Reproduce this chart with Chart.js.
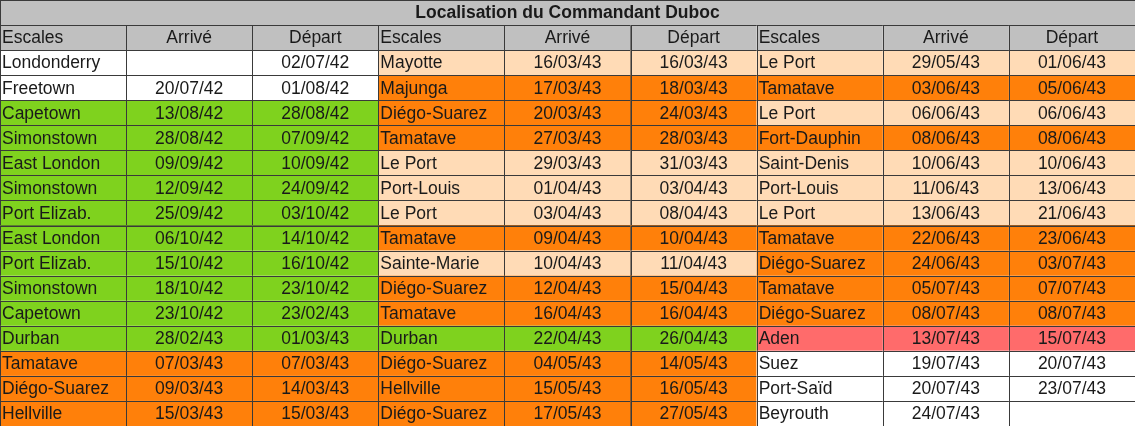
<!DOCTYPE html>
<html>
<head>
<meta charset="utf-8">
<script src="https://cdn.jsdelivr.net/npm/chart.js@4"></script>
<style>
  html, body { margin: 0; padding: 0; background: #fff; }
  #wrap { width: 1135px; height: 426px; }
</style>
</head>
<body>
<div id="wrap"><canvas id="tbl"></canvas></div>
<script>
// =========================================
// TABLE DATA
// =========================================
const title = 'Localisation du Commandant Duboc';
const headers = ['Escales', 'Arrivé', 'Départ'];

// colour keys: w = white, g = green, o = orange, p = peach, r = red
const escales1 = ['Londonderry','Freetown','Capetown','Simonstown','East London','Simonstown','Port Elizab.','East London','Port Elizab.','Simonstown','Capetown','Durban','Tamatave','Diégo-Suarez','Hellville'];
const arrive1 = ['','20/07/42','13/08/42','28/08/42','09/09/42','12/09/42','25/09/42','06/10/42','15/10/42','18/10/42','23/10/42','28/02/43','07/03/43','09/03/43','15/03/43'];
const depart1 = ['02/07/42','01/08/42','28/08/42','07/09/42','10/09/42','24/09/42','03/10/42','14/10/42','16/10/42','23/10/42','23/02/43','01/03/43','07/03/43','14/03/43','15/03/43'];
const colors1 = ['w','w','g','g','g','g','g','g','g','g','g','g','o','o','o'];

const escales2 = ['Mayotte','Majunga','Diégo-Suarez','Tamatave','Le Port','Port-Louis','Le Port','Tamatave','Sainte-Marie','Diégo-Suarez','Tamatave','Durban','Diégo-Suarez','Hellville','Diégo-Suarez'];
const arrive2 = ['16/03/43','17/03/43','20/03/43','27/03/43','29/03/43','01/04/43','03/04/43','09/04/43','10/04/43','12/04/43','16/04/43','22/04/43','04/05/43','15/05/43','17/05/43'];
const depart2 = ['16/03/43','18/03/43','24/03/43','28/03/43','31/03/43','03/04/43','08/04/43','10/04/43','11/04/43','15/04/43','16/04/43','26/04/43','14/05/43','16/05/43','27/05/43'];
const colors2 = ['p','o','o','o','p','p','p','o','p','o','o','g','o','o','o'];

const escales3 = ['Le Port','Tamatave','Le Port','Fort-Dauphin','Saint-Denis','Port-Louis','Le Port','Tamatave','Diégo-Suarez','Tamatave','Diégo-Suarez','Aden','Suez','Port-Saïd','Beyrouth'];
const arrive3 = ['29/05/43','03/06/43','06/06/43','08/06/43','10/06/43','11/06/43','13/06/43','22/06/43','24/06/43','05/07/43','08/07/43','13/07/43','19/07/43','20/07/43','24/07/43'];
const depart3 = ['01/06/43','05/06/43','06/06/43','08/06/43','10/06/43','13/06/43','21/06/43','23/06/43','03/07/43','07/07/43','08/07/43','15/07/43','20/07/43','23/07/43',''];
const colors3 = ['p','o','p','o','p','p','p','o','o','o','o','r','w','w','w'];

const palette = { w: '#ffffff', g: '#7fd21e', o: '#ff800a', p: '#ffdbb6', r: '#ff6b6b', h: '#c0c0c0' };

const groups = [
    [escales1, arrive1, depart1, colors1],
    [escales2, arrive2, depart2, colors2],
    [escales3, arrive3, depart3, colors3]
];
const nRows = escales1.length + 2; // title + header + data

// draws the cells on the chart's own scales (x: 0..9 columns, y: 0..nRows rows)
const tablePlugin = {
    id: 'tableCells',
    afterDraw(chart) {
        const c = chart.ctx;
        const xs = chart.scales.x, ys = chart.scales.y;
        const rect = (x0, y0, x1, y1) => {
            const px0 = xs.getPixelForValue(x0), px1 = xs.getPixelForValue(x1);
            const py0 = ys.getPixelForValue(y0), py1 = ys.getPixelForValue(y1);
            return [px0, py0, px1 - px0, py1 - py0];
        };
        const cell = (col, row, span, fill, text, align, bold) => {
            const [x, y, w, h] = rect(col, row, col + span, row + 1);
            c.fillStyle = fill;
            c.fillRect(x, y, w, h);
            c.strokeStyle = '#3a3a3a';
            c.lineWidth = 1;
            c.strokeRect(Math.round(x) + 0.5, Math.round(y) + 0.5, Math.round(w), Math.round(h));
            if (!text) return;
            c.fillStyle = '#1a1a1a';
            c.font = (bold ? 'bold ' : '') + '17.5px "Liberation Sans", Arial, sans-serif';
            c.textBaseline = 'middle';
            c.textAlign = align;
            const tx = align === 'left' ? x + 2 : x + w / 2;
            c.fillText(text, tx, y + h / 2 + 1);
        };

        c.save();
        cell(0, 0, 9, palette.h, title, 'center', true);
        groups.forEach((g, gi) => {
            const base = gi * 3;
            headers.forEach((hd, i) => cell(base + i, 1, 1, palette.h, hd, i === 0 ? 'left' : 'center'));
            g[0].forEach((name, r) => {
                const fill = palette[g[3][r]];
                cell(base, r + 2, 1, fill, name, 'left');
                cell(base + 1, r + 2, 1, fill, g[1][r], 'center');
                cell(base + 2, r + 2, 1, fill, g[2][r], 'center');
            });
        });
        c.restore();
    }
};

new Chart(document.getElementById('tbl'), {
    type: 'scatter',
    data: { datasets: [{ data: [] }] },
    options: {
        responsive: true,
        maintainAspectRatio: false,
        animation: false,
        layout: { padding: 0 },
        plugins: { legend: { display: false }, tooltip: { enabled: false } },
        scales: {
            x: { type: 'linear', min: 0, max: 9, display: false },
            y: { type: 'linear', min: 0, max: nRows, reverse: true, display: false }
        }
    },
    plugins: [tablePlugin]
});
</script>
</body>
</html>
